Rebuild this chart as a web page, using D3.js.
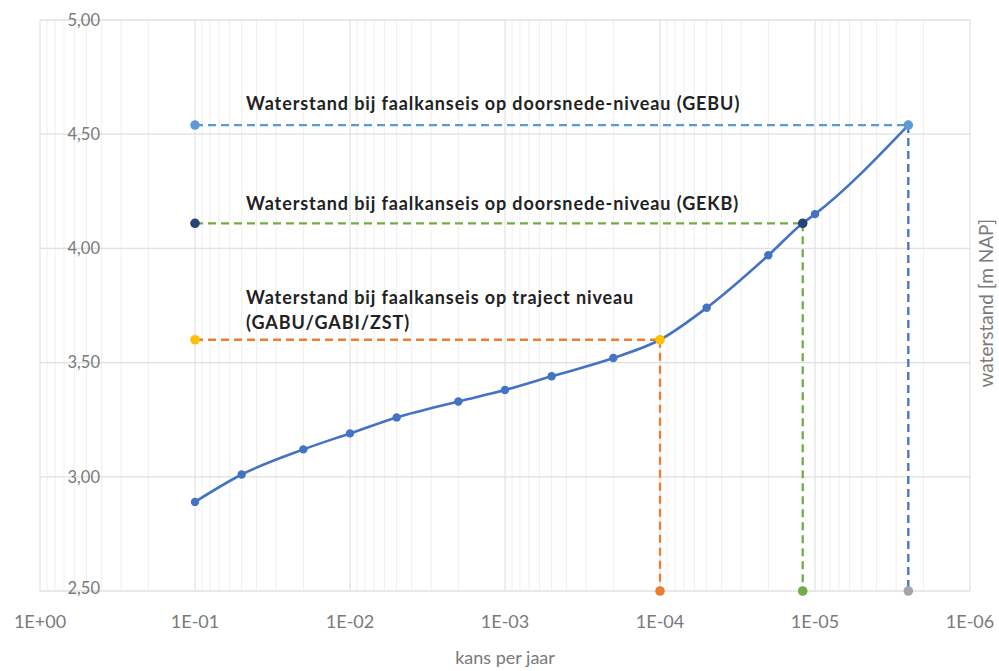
<!DOCTYPE html>
<html>
<head>
<meta charset="utf-8">
<script src="https://cdn.jsdelivr.net/npm/d3@7"></script>
<style>
  body { margin: 0; background: #fff; }
  svg { display: block; font-family: Lato, "Open Sans", sans-serif; }
  .tick-label { fill: #7a7a7a; font-size: 18px; }
  .y-label { font-size: 16.5px; }
  .axis-title { fill: #7a7a7a; font-size: 18px; }
  .y-title { font-size: 19px; }
  .note { fill: #222; font-size: 18px; font-weight: bold; letter-spacing: 0.9px; }
</style>
</head>
<body>
<div id="chart"></div>
<script>
// kansen (per jaar) en waterstanden van de curve
const kans = [1e-1, 5e-2, 2e-2, 1e-2, 5e-3, 2e-3, 1e-3, 5e-4, 2e-4, 1e-4, 5e-5, 2e-5, 1.2e-5, 1e-5, 2.5e-6];
const waterstand = [2.89, 3.01, 3.12, 3.19, 3.26, 3.33, 3.38, 3.44, 3.52, 3.60, 3.74, 3.97, 4.11, 4.15, 4.54];

// normniveaus
const niveauKans = [2.5e-6, 1.2e-5, 1e-4];
const niveauWaterstand = [4.54, 4.11, 3.60];
const niveauTekst = [
  ["Waterstand bij faalkanseis op doorsnede-niveau (GEBU)"],
  ["Waterstand bij faalkanseis op doorsnede-niveau (GEKB)"],
  ["Waterstand bij faalkanseis op traject niveau", "(GABU/GABI/ZST)"]
];

const xTicks = [1, 1e-1, 1e-2, 1e-3, 1e-4, 1e-5, 1e-6];
const yTicks = [2.5, 3, 3.5, 4, 4.5, 5];

function chart(width, height, selector) {

  // colours
  let lineColor = "#4472c4";
  let styles = [
    { hLine: "#5b9bd5", vLine: "#4472c4", startDot: "#5b9bd5", endDot: "#5b9bd5", baseDot: "#a5a5a5", dy: -15 },
    { hLine: "#70ad47", vLine: "#70ad47", startDot: "#264478", endDot: "#264478", baseDot: "#70ad47", dy: -13 },
    { hLine: "#ed7d31", vLine: "#ed7d31", startDot: "#ffc000", endDot: "#ffc000", baseDot: "#ed7d31", dy: -36 }
  ];

  let margin = { top: 20, left: 40, right: 29, bottom: 80 };
  let chartWidth = width - margin.left - margin.right;
  let chartHeight = height - margin.top - margin.bottom;

  let xScale = d3.scaleLog()
    .domain([1, 1e-6])
    .range([0, chartWidth]);

  let yScale = d3.scaleLinear()
    .domain([2.5, 5])
    .range([chartHeight, 0]);

  let svg = d3.select(selector)
    .append("svg")
    .attr("width", width)
    .attr("height", height);

  let g = svg.append("g")
    .attr("transform", "translate(" + margin.left + "," + margin.top + ")");

  // minor vertical gridlines (2..9 per decade)
  let minor = [];
  for (let e = 0; e > -6; e--) {
    for (let m = 1; m < 10; m++) minor.push(m * Math.pow(10, e - 1));
  }
  g.append("g").selectAll("line")
    .data(minor.filter(d => !xTicks.includes(d)))
    .join("line")
    .attr("x1", d => xScale(d)).attr("x2", d => xScale(d))
    .attr("y1", 0).attr("y2", chartHeight)
    .attr("stroke", "#efefef").attr("stroke-width", 1);

  // major gridlines
  g.append("g").selectAll("line")
    .data(xTicks)
    .join("line")
    .attr("x1", d => xScale(d)).attr("x2", d => xScale(d))
    .attr("y1", 0).attr("y2", chartHeight)
    .attr("stroke", "#dcdcdc").attr("stroke-width", 1);

  g.append("g").selectAll("line")
    .data(yTicks)
    .join("line")
    .attr("x1", 0).attr("x2", chartWidth)
    .attr("y1", d => yScale(d)).attr("y2", d => yScale(d))
    .attr("stroke", "#e0e0e0").attr("stroke-width", 1.3);

  // y tick labels (sit inside the plot, like the original)
  g.append("g").selectAll("text")
    .data(yTicks)
    .join("text")
    .attr("class", "tick-label y-label")
    .attr("x", 60)
    .attr("y", d => yScale(d))
    .attr("dy", d => d === 2.5 ? "0.2em" : "0.35em")
    .attr("text-anchor", "end")
    .text(d => d3.format(".2f")(d).replace(".", ","));

  // x tick labels
  g.append("g").selectAll("text")
    .data(xTicks)
    .join("text")
    .attr("class", "tick-label")
    .attr("x", d => xScale(d))
    .attr("y", chartHeight + 37)
    .attr("text-anchor", "middle")
    .text(d => {
      let e = Math.round(Math.log10(d));
      return "1E" + (e >= 0 ? "+" : "-") + String(Math.abs(e)).padStart(2, "0");
    });

  // axis titles
  g.append("text")
    .attr("class", "axis-title")
    .attr("x", chartWidth / 2)
    .attr("y", chartHeight + 73)
    .attr("text-anchor", "middle")
    .text("kans per jaar");

  g.append("text")
    .attr("class", "axis-title y-title")
    .attr("transform", "translate(" + (chartWidth + 23) + "," + yScale(3.76) + ") rotate(-90)")
    .attr("text-anchor", "middle")
    .text("waterstand [m NAP]");

  // dashed reference lines
  let refs = niveauKans.map((k, i) => ({ k: k, w: niveauWaterstand[i], s: styles[i], t: niveauTekst[i] }));

  refs.forEach(r => {
    g.append("line")
      .attr("x1", xScale(1e-1)).attr("x2", xScale(r.k))
      .attr("y1", yScale(r.w)).attr("y2", yScale(r.w))
      .attr("stroke", r.s.hLine).attr("stroke-width", 2.3)
      .attr("stroke-dasharray", "8,5");
    g.append("line")
      .attr("x1", xScale(r.k)).attr("x2", xScale(r.k))
      .attr("y1", yScale(r.w)).attr("y2", chartHeight)
      .attr("stroke", r.s.vLine).attr("stroke-width", 2.3)
      .attr("stroke-dasharray", "8,5");
  });

  // curve
  let line = d3.line()
    .x((d, i) => xScale(kans[i]))
    .y(d => yScale(d))
    .curve(d3.curveMonotoneX);

  g.append("path")
    .datum(waterstand)
    .attr("d", line)
    .attr("fill", "none")
    .attr("stroke", lineColor)
    .attr("stroke-width", 2.6);

  g.append("g").selectAll("circle")
    .data(waterstand)
    .join("circle")
    .attr("cx", (d, i) => xScale(kans[i]))
    .attr("cy", d => yScale(d))
    .attr("r", 4.2)
    .attr("fill", lineColor);

  // reference dots
  refs.forEach(r => {
    g.append("circle")
      .attr("cx", xScale(1e-1)).attr("cy", yScale(r.w))
      .attr("r", 4.8).attr("fill", r.s.startDot);
    g.append("circle")
      .attr("cx", xScale(r.k)).attr("cy", yScale(r.w))
      .attr("r", 4.8).attr("fill", r.s.endDot);
    g.append("circle")
      .attr("cx", xScale(r.k)).attr("cy", chartHeight)
      .attr("r", 4.8).attr("fill", r.s.baseDot);

    // annotation
    let t = g.append("text")
      .attr("class", "note")
      .attr("x", 206)
      .attr("y", yScale(r.w) + r.s.dy);
    r.t.forEach((s, j) => {
      t.append("tspan")
        .attr("x", 206)
        .attr("dy", j === 0 ? 0 : 25)
        .text(s);
    });
  });
}

chart(999, 671, "#chart");
</script>
</body>
</html>
